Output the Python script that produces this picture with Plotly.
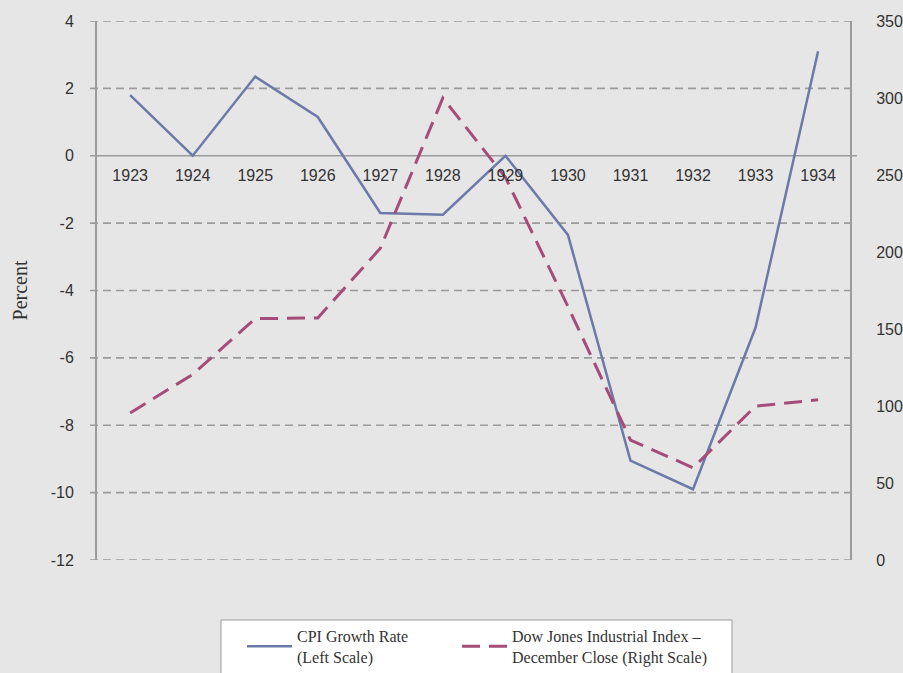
import plotly.graph_objects as go

years = [1923, 1924, 1925, 1926, 1927, 1928, 1929, 1930, 1931, 1932, 1933, 1934]
cpi_growth = [1.8, 0.0, 2.35, 1.15, -1.7, -1.75, 0.0, -2.35, -9.05, -9.9, -5.1, 3.1]
djia_close = [95.5, 120.5, 156.7, 157.2, 202.4, 300.0, 248.5, 164.6, 77.9, 59.9, 99.9, 104.0]
year_labels = [str(y) for y in years]
left_ticks = [4, 2, 0, -2, -4, -6, -8, -10, -12]
left_labels = [str(v) for v in left_ticks]
right_ticks = [0, 50, 100, 150, 200, 250, 300, 350]

grid_col = "#9b9b9b"
txt_col = "#333333"
sans = "Liberation Sans, Arial, sans-serif"
serif = "Liberation Serif, Times New Roman, serif"

fig = go.Figure()
fig.add_trace(go.Scatter(
    x=years, y=cpi_growth, mode="lines",
    name="CPI Growth Rate<br>(Left Scale)",
    line=dict(color="#6b7aa9", width=2.5),
    yaxis="y", legend="legend"))
fig.add_trace(go.Scatter(
    x=years, y=djia_close, mode="lines",
    name="Dow Jones Industrial Index –<br>December Close (Right Scale)",
    line=dict(color="#a54d78", width=3, dash="18px,9px"),
    yaxis="y2", legend="legend2"))

# horizontal grid lines (extend past both axes like tick marks)
for v in left_ticks:
    fig.add_shape(type="line", xref="paper", yref="y",
                  x0=-0.0093, x1=1.0093, y0=v, y1=v, layer="below",
                  line=dict(color=grid_col, width=1.6,
                            dash="solid" if v == 0 else "8px,5px"))

# legend box
fig.add_shape(type="rect", xref="paper", yref="paper",
              x0=(221 - 97) / 753, x1=(732 - 97) / 753,
              y0=(560 - 620) / 539, y1=(560 - 700) / 539,
              layer="above", fillcolor="#ffffff",
              line=dict(color="#9b9b9b", width=1))

leg_common = dict(
    orientation="h", xref="container", yref="container",
    y=(673 - 619) / 673, xanchor="left", yanchor="top",
    bgcolor="rgba(0,0,0,0)", borderwidth=0,
    font=dict(family=serif, size=16, color=txt_col),
    itemwidth=45)

fig.update_layout(
    width=903, height=673,
    paper_bgcolor="#e6e6e6", plot_bgcolor="#e6e6e6",
    margin=dict(l=97, r=53, t=21, b=113, autoexpand=False),
    showlegend=True,
    xaxis=dict(
        range=[1922.47, 1934.51], tickvals=years, ticktext=year_labels,
        anchor="free", position=0.75, showline=False, showgrid=False,
        zeroline=False, ticks="", ticklabelstandoff=8,
        tickfont=dict(family=sans, size=16, color=txt_col)),
    yaxis=dict(
        range=[-12, 4], tickvals=left_ticks, ticktext=left_labels,
        showgrid=False, zeroline=False,
        showline=True, linecolor=grid_col, linewidth=2,
        ticks="", ticklabelstandoff=18,
        tickfont=dict(family=sans, size=16, color=txt_col),
        title=dict(text="Percent", font=dict(family=serif, size=20, color=txt_col),
                   standoff=18)),
    yaxis2=dict(
        range=[0, 350], tickvals=right_ticks, overlaying="y", side="right",
        showgrid=False, zeroline=False, showline=True, linecolor=grid_col,
        linewidth=2, ticks="", ticklabelstandoff=21,
        tickfont=dict(family=sans, size=16, color=txt_col)),
    legend=dict(x=242 / 903, **leg_common),
    legend2=dict(x=457 / 903, **leg_common),
)

fig.write_html("out.html", config={"displayModeBar": False},
               post_script="document.body.style.margin='0';document.body.style.overflow='hidden';")
